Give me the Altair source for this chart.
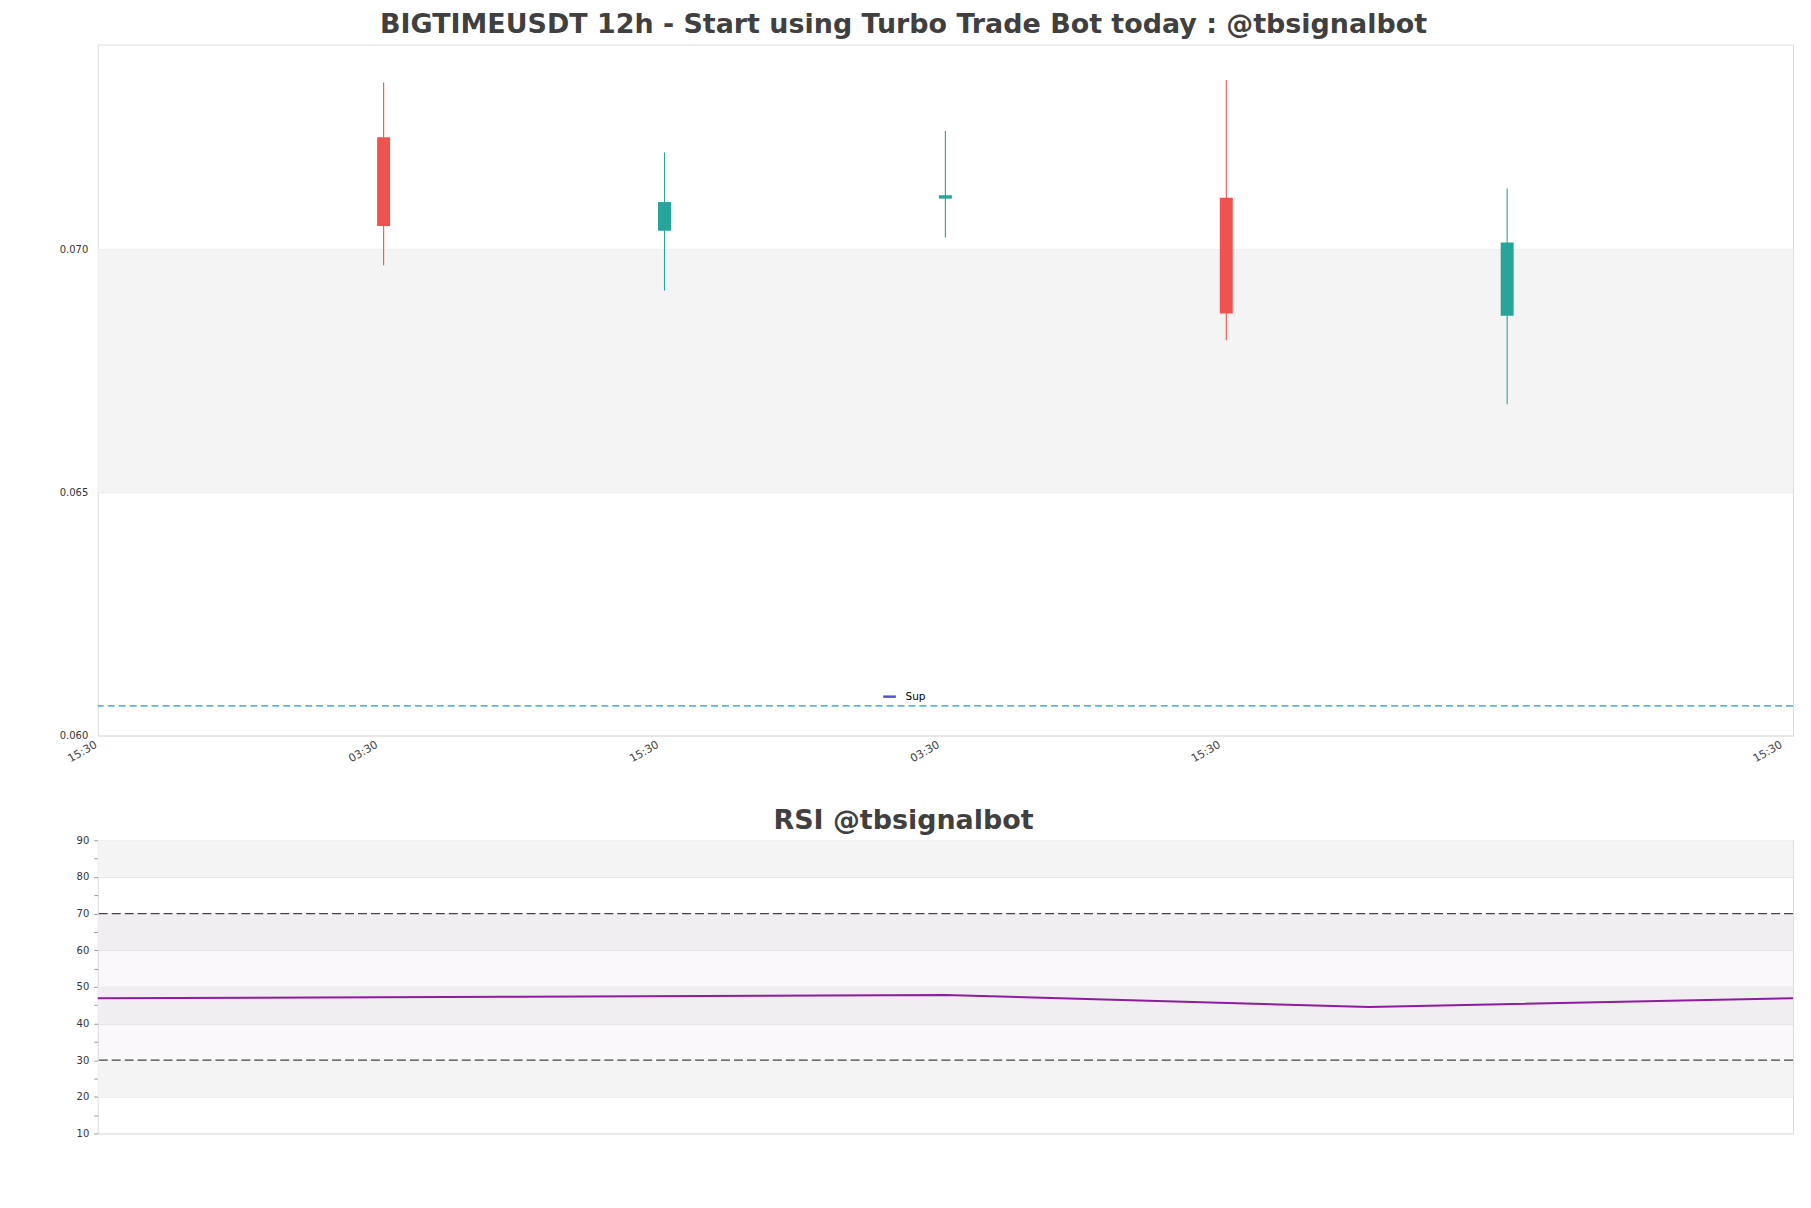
import altair as alt
import pandas as pd

# ---------------- data ----------------
candle_time = ["2023-11-11T03:30:00Z", "2023-11-11T15:30:00Z", "2023-11-12T03:30:00Z",
               "2023-11-12T15:30:00Z", "2023-11-13T03:30:00Z"]
open_p = [0.07230, 0.07038, 0.07104, 0.07106, 0.06863]
close_p = [0.07048, 0.07097, 0.07111, 0.06868, 0.07014]
high_p = [0.07343, 0.07199, 0.07243, 0.07348, 0.07125]
low_p = [0.06967, 0.06915, 0.07024, 0.06813, 0.06681]

x_domain_times = ["2023-11-10T15:30:00Z", "2023-11-13T15:30:00Z"]
x_tick_times = ["2023-11-10T15:30:00Z", "2023-11-11T03:30:00Z", "2023-11-11T15:30:00Z",
                "2023-11-12T03:30:00Z", "2023-11-12T15:30:00Z", "2023-11-13T15:30:00Z"]
x_tick_labels = ["15:30", "03:30", "15:30", "03:30", "15:30", "15:30"]

price_domain = [0.060, 0.07421]
price_ticks = [0.060, 0.065, 0.070]
price_band_lo = [0.065]
price_band_hi = [0.070]

support_value = [0.06061]
support_name = ["Sup"]

rsi_index = [0, 1, 2, 3, 4]
rsi_values = [46.9, 47.3, 47.8, 44.5, 46.9]
rsi_major_ticks = [10, 20, 30, 40, 50, 60, 70, 80, 90]
rsi_minor_ticks = [15, 25, 35, 45, 55, 65, 75, 85]
rsi_band_lo = [20, 40, 60, 80]
rsi_band_hi = [30, 50, 70, 90]
rsi_zone = [30, 70]
rsi_levels = [30, 70]

TITLE_MAIN = "BIGTIMEUSDT 12h - Start using Turbo Trade Bot today : @tbsignalbot"
TITLE_RSI = "RSI @tbsignalbot"

# ---------------- helpers ----------------
def ms(s):
    return int(pd.Timestamp(s).value // 10**6)

FONT = "DejaVu Sans"
W = 1700

candles = pd.DataFrame({
    "t": candle_time, "open": open_p, "close": close_p, "high": high_p, "low": low_p,
})
candles["dir"] = ["up" if c >= o else "down" for o, c in zip(open_p, close_p)]

tick_ms = [ms(s) for s in x_tick_times]
label_expr = "[{}][indexof([{}], time(datum.value))]".format(
    ",".join("'" + s + "'" for s in x_tick_labels), ",".join(str(v) for v in tick_ms))

xscale = alt.Scale(type="utc", domain=[ms(s) for s in x_domain_times])
yscale = alt.Scale(domain=price_domain, nice=False, zero=False)

x_axis = alt.Axis(values=tick_ms, labelExpr=label_expr,
                  labelAngle=-30, labelAlign="right", labelBaseline="top", ticks=False,
                  domain=False, grid=False, labelFontSize=11, labelColor="#444444",
                  labelPadding=3, labelOffset=-10, labelFlush=False, labelBound=False,
                  title=None, labelFont=FONT, labelOverlap=False)
y_axis = alt.Axis(values=price_ticks, format=".3f", ticks=False, domain=False, grid=True,
                  gridColor="#e2e2e2", labelFontSize=10, labelColor="#333333", labelPadding=10,
                  minExtent=84, maxExtent=84, title=None, labelFont=FONT)

band = alt.Chart(pd.DataFrame({"lo": price_band_lo, "hi": price_band_hi})).mark_rect(
    color="#f4f4f4").encode(y=alt.Y("lo:Q", scale=yscale, axis=y_axis), y2="hi:Q")

cbase = alt.Chart(candles).encode(
    x=alt.X("t:T", scale=xscale, axis=x_axis),
    color=alt.Color("dir:N", scale=alt.Scale(domain=["up", "down"], range=["#26a69a", "#ef5350"]),
                    legend=None),
)
wick = cbase.mark_rule(strokeWidth=1.1).encode(y=alt.Y("low:Q", scale=yscale, axis=y_axis), y2="high:Q")
body = cbase.mark_bar(size=13).encode(y=alt.Y("open:Q", scale=yscale, axis=y_axis), y2="close:Q")

sup_df = pd.DataFrame({"y": support_value, "name": support_name})
sup = alt.Chart(sup_df).mark_rule(strokeDash=[7, 4], strokeWidth=1.2, color="#1a9ad0").encode(
    y=alt.Y("y:Q", scale=yscale, axis=y_axis))
# legend carrier (invisible points) so that the legend symbol can differ from the line colour
sup_legend = alt.Chart(sup_df).mark_point(size=0).encode(
    y=alt.Y("y:Q", scale=yscale, axis=y_axis),
    color=alt.Color("name:N", scale=alt.Scale(domain=support_name, range=["#0a0ab4"]),
                    legend=alt.Legend(orient="none", legendX=786, legendY=646, title=None,
                                      symbolType="stroke", symbolStrokeWidth=2.5, symbolSize=160,
                                      labelFontSize=10.5, labelColor="#000000", labelFont=FONT,
                                      padding=0, labelOffset=8)),
)

top = alt.layer(band, wick, body, sup, sup_legend).resolve_scale(color="independent").properties(
    width=W, height=693,
    title=alt.TitleParams(TITLE_MAIN, fontSize=27, font=FONT, fontWeight="bold", color="#404040",
                          anchor="middle", dx=-42, offset=6),
)

# ---------------- RSI ----------------
rscale = alt.Scale(domain=[10, 90], nice=False, zero=False)
r_axis = alt.Axis(values=sorted(rsi_major_ticks + rsi_minor_ticks),
                  labelExpr="datum.value % 10 === 0 ? datum.label : ''",
                  ticks=True, tickSize=4, tickColor="#999999", domain=False, grid=True,
                  gridColor="#e2e2e2",
                  gridOpacity={"condition": {"test": "datum.value % 10 === 0", "value": 1}, "value": 0},
                  labelFontSize=10, labelColor="#333333", labelPadding=5,
                  minExtent=84, maxExtent=84, title=None, labelFont=FONT)
ixscale = alt.Scale(domain=[rsi_index[0], rsi_index[-1]], nice=False, zero=False)

rbands = alt.Chart(pd.DataFrame({"lo": rsi_band_lo, "hi": rsi_band_hi})).mark_rect(
    color="#f4f4f4").encode(y=alt.Y("lo:Q", scale=rscale, axis=r_axis), y2="hi:Q")
rzone = alt.Chart(pd.DataFrame({"lo": [rsi_zone[0]], "hi": [rsi_zone[1]]})).mark_rect(
    color="#c8b4d8", opacity=0.09).encode(y=alt.Y("lo:Q", scale=rscale, axis=r_axis), y2="hi:Q")
rlevels = alt.Chart(pd.DataFrame({"v": rsi_levels})).mark_rule(
    color="#444444", strokeDash=[9, 4], strokeWidth=1.2).encode(y=alt.Y("v:Q", scale=rscale, axis=r_axis))
rline = alt.Chart(pd.DataFrame({"i": rsi_index, "rsi": rsi_values})).mark_line(
    color="#8e1c9e", strokeWidth=2).encode(
    x=alt.X("i:Q", scale=ixscale, axis=None),
    y=alt.Y("rsi:Q", scale=rscale, axis=r_axis))

bottom = alt.layer(rbands, rzone, rlevels, rline).properties(
    width=W, height=294,
    title=alt.TitleParams(TITLE_RSI, fontSize=27, font=FONT, fontWeight="bold", color="#404040",
                          anchor="middle", dx=-42, offset=0),
)

chart = alt.vconcat(top, bottom, spacing=42).properties(
    padding={"left": 5, "top": 0, "right": 5, "bottom": 5}
).configure_view(stroke="#d8d8d8", strokeWidth=1).configure(font=FONT, background="white")

chart.save("out.html", embed_options={"renderer": "svg", "actions": False})
